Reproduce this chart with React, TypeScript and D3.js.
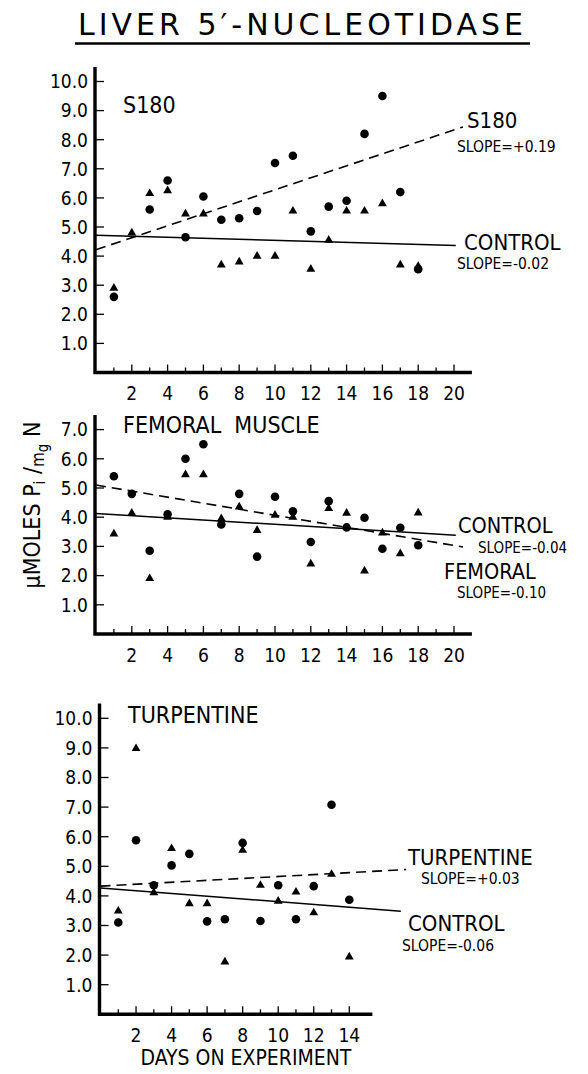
import { useEffect, useRef } from 'react';
import { line, scaleLinear, select, symbol, symbolTriangle } from 'd3';

type Pt = [number, number];

// [day, µmoles Pi / mg N]
const s180Treated: Pt[] = [
  [1, 2.6], [3, 5.6], [4, 6.6], [5, 4.65], [6, 6.05], [7, 5.25], [8, 5.3], [9, 5.55],
  [10, 7.2], [11, 7.45], [12, 4.85], [13, 5.7], [14, 5.9], [15, 8.2], [16, 9.5],
  [17, 6.2], [18, 3.55],
];
const s180Control: Pt[] = [
  [1, 2.9], [2, 4.8], [3, 6.15], [4, 6.25], [5, 5.45], [6, 5.45], [7, 3.7], [8, 3.8],
  [9, 4.0], [10, 4.0], [11, 5.55], [12, 3.55], [13, 4.55], [14, 5.55], [15, 5.55],
  [16, 5.8], [17, 3.7], [18, 3.65],
];
const s180TreatedFit: Pt[] = [[0, 4.22], [20.5, 8.44]];
const s180ControlFit: Pt[] = [[0, 4.72], [20.1, 4.36]];

const femoralTreated: Pt[] = [
  [1, 5.4], [2, 4.8], [3, 2.85], [4, 4.1], [5, 6.0], [6, 6.5], [7, 3.75], [8, 4.8],
  [9, 2.65], [10, 4.7], [11, 4.2], [12, 3.15], [13, 4.55], [14, 3.65], [15, 3.98],
  [16, 2.92], [17, 3.64], [18, 3.04],
];
const femoralControl: Pt[] = [
  [1, 3.43], [2, 4.14], [3, 1.9], [4, 4.0], [5, 5.46], [6, 5.46], [7, 3.95], [8, 4.35],
  [9, 3.55], [10, 4.07], [11, 4.0], [12, 2.4], [13, 4.3], [14, 4.14], [15, 2.16],
  [16, 3.46], [17, 2.75], [18, 4.15],
];
const femoralTreatedFit: Pt[] = [[0, 5.1], [20.5, 2.98]];
const femoralControlFit: Pt[] = [[0, 4.13], [20.1, 3.38]];

const turpTreated: Pt[] = [
  [1, 3.1], [2, 5.88], [3, 4.36], [4, 5.03], [5, 5.42], [6, 3.14], [7, 3.21], [8, 5.79],
  [9, 3.15], [10, 4.36], [11, 3.21], [12, 4.33], [13, 7.08], [14, 3.87],
];
const turpControl: Pt[] = [
  [1, 3.49], [2, 8.98], [3, 4.11], [4, 5.6], [5, 3.74], [6, 3.74], [7, 1.77], [8, 5.54],
  [9, 4.36], [10, 3.82], [11, 4.13], [12, 3.43], [13, 4.73], [14, 1.94],
];
const turpTreatedFit: Pt[] = [[0, 4.33], [17.2, 4.89]];
const turpControlFit: Pt[] = [[0, 4.27], [16.9, 3.48]];

const dayTicks20 = [2, 4, 6, 8, 10, 12, 14, 16, 18, 20];
const dayTicks14 = [2, 4, 6, 8, 10, 12, 14];
const valueTicks10 = [1, 2, 3, 4, 5, 6, 7, 8, 9, 10];
const valueTicks7 = [1, 2, 3, 4, 5, 6, 7];

const FONT = "'DejaVu Sans Condensed', 'DejaVu Sans', sans-serif";

type Label = { text: string; x: number; y: number; size: number };

const panels = [
  {
    name: 'S180',
    treated: s180Treated,
    control: s180Control,
    treatedFit: s180TreatedFit,
    controlFit: s180ControlFit,
    xTicks: dayTicks20,
    yTicks: valueTicks10,
    xMax: 21,
    yMax: 10.5,
    left: 96,
    pxPerDay: 17.9,
    bottom: 372.5,
    pxPerUnit: 29.1,
    titleX: 123,
    titleY: 113,
    labels: [
      { text: 'S180', x: 467, y: 128, size: 22 },
      { text: 'SLOPE=+0.19', x: 457, y: 151.5, size: 15.5 },
      { text: 'CONTROL', x: 464, y: 250, size: 22 },
      { text: 'SLOPE=-0.02', x: 457, y: 268.5, size: 15.5 },
    ] as Label[],
  },
  {
    name: 'FEMORAL  MUSCLE',
    treated: femoralTreated,
    control: femoralControl,
    treatedFit: femoralTreatedFit,
    controlFit: femoralControlFit,
    xTicks: dayTicks20,
    yTicks: valueTicks7,
    xMax: 21,
    yMax: 7.5,
    left: 96,
    pxPerDay: 17.9,
    bottom: 634,
    pxPerUnit: 29.2,
    titleX: 123,
    titleY: 432.5,
    labels: [
      { text: 'CONTROL', x: 458, y: 533, size: 21.5 },
      { text: 'SLOPE=-0.04', x: 478, y: 553, size: 15 },
      { text: 'FEMORAL', x: 444, y: 578.5, size: 21.5 },
      { text: 'SLOPE=-0.10', x: 457, y: 597.5, size: 15 },
    ] as Label[],
  },
  {
    name: 'TURPENTINE',
    treated: turpTreated,
    control: turpControl,
    treatedFit: turpTreatedFit,
    controlFit: turpControlFit,
    xTicks: dayTicks14,
    yTicks: valueTicks10,
    xMax: 15.3,
    yMax: 10.5,
    left: 100.5,
    pxPerDay: 17.77,
    bottom: 1014.3,
    pxPerUnit: 29.6,
    titleX: 128,
    titleY: 723,
    labels: [
      { text: 'TURPENTINE', x: 408, y: 865, size: 22 },
      { text: 'SLOPE=+0.03', x: 421, y: 883.5, size: 15.5 },
      { text: 'CONTROL', x: 408, y: 930.5, size: 22 },
      { text: 'SLOPE=-0.06', x: 402, y: 950.5, size: 15.5 },
    ] as Label[],
  },
];

export default function App() {
  const ref = useRef<SVGSVGElement>(null);

  useEffect(() => {
    const el = ref.current;
    if (!el) return;
    const svg = select(el);
    svg.selectAll('*').remove();

    // title
    svg
      .append('text')
      .attr('x', 78)
      .attr('y', 35)
      .attr('font-family', "'DejaVu Sans', sans-serif")
      .attr('font-size', 30)
      .attr('letter-spacing', 4)
      .text('LIVER 5′-NUCLEOTIDASE');
    svg
      .append('line')
      .attr('x1', 75)
      .attr('x2', 530)
      .attr('y1', 43.5)
      .attr('y2', 43.5)
      .attr('stroke', '#000')
      .attr('stroke-width', 2.5);

    panels.forEach((p) => {
      const x = scaleLinear()
        .domain([0, p.xMax])
        .range([p.left, p.left + p.xMax * p.pxPerDay]);
      const y = scaleLinear()
        .domain([0, p.yMax])
        .range([p.bottom, p.bottom - p.yMax * p.pxPerUnit]);
      const g = svg.append('g').attr('font-family', FONT).attr('font-stretch', 'condensed');

      // axes
      g.append('path')
        .attr('d', `M${x(0) - 1},${y(p.yMax)}V${y(0)}H${x(p.xMax)}`)
        .attr('fill', 'none')
        .attr('stroke', '#000')
        .attr('stroke-width', 3.4);

      const lastTick = p.xTicks[p.xTicks.length - 1];
      const days = Array.from({ length: lastTick }, (_, i) => i + 1);
      g.selectAll('.xt')
        .data(days)
        .join('line')
        .attr('x1', (d) => x(d))
        .attr('x2', (d) => x(d))
        .attr('y1', y(0))
        .attr('y2', (d) => y(0) - (d % 2 === 0 ? 8 : 5))
        .attr('stroke', '#000')
        .attr('stroke-width', 1.3);
      g.selectAll('.xl')
        .data(p.xTicks)
        .join('text')
        .attr('x', (d) => x(d))
        .attr('y', y(0) + 27.5)
        .attr('text-anchor', 'middle')
        .attr('font-size', 19)
        .text((d) => String(d));

      g.selectAll('.yt')
        .data(p.yTicks)
        .join('line')
        .attr('x1', x(0))
        .attr('x2', x(0) + 8)
        .attr('y1', (d) => y(d))
        .attr('y2', (d) => y(d))
        .attr('stroke', '#000')
        .attr('stroke-width', 1.3);
      g.selectAll('.yl')
        .data(p.yTicks)
        .join('text')
        .attr('x', x(0) - 8)
        .attr('y', (d) => y(d))
        .attr('dy', '0.36em')
        .attr('text-anchor', 'end')
        .attr('font-size', 19)
        .text((d) => d.toFixed(1));

      // fit lines
      const ln = line<Pt>()
        .x((d) => x(d[0]))
        .y((d) => y(d[1]));
      g.append('path')
        .attr('d', ln(p.controlFit))
        .attr('fill', 'none')
        .attr('stroke', '#000')
        .attr('stroke-width', 1.5);
      g.append('path')
        .attr('d', ln(p.treatedFit))
        .attr('fill', 'none')
        .attr('stroke', '#000')
        .attr('stroke-width', 1.6)
        .attr('stroke-dasharray', '10 6');

      // points
      g.selectAll('.tri')
        .data(p.control)
        .join('path')
        .attr('d', symbol(symbolTriangle, 34)())
        .attr('transform', (d) => `translate(${x(d[0])},${y(d[1])})`)
        .attr('fill', '#000');
      g.selectAll('.dot')
        .data(p.treated)
        .join('circle')
        .attr('cx', (d) => x(d[0]))
        .attr('cy', (d) => y(d[1]))
        .attr('r', 4.3)
        .attr('fill', '#000');

      // titles and labels
      g.append('text')
        .attr('x', p.titleX)
        .attr('y', p.titleY)
        .attr('font-size', 23)
        .style('white-space', 'pre')
        .text(p.name);
      p.labels.forEach((l) => {
        g.append('text').attr('x', l.x).attr('y', l.y).attr('font-size', l.size).text(l.text);
      });
    });

    // y axis title
    const yt = svg
      .append('text')
      .attr('transform', 'translate(40,505) rotate(-90)')
      .attr('text-anchor', 'middle')
      .attr('font-family', FONT)
      .attr('font-stretch', 'condensed')
      .attr('font-size', 23);
    yt.append('tspan').text('μMOLES P');
    yt.append('tspan').attr('font-size', 15).attr('dy', 5).text('i');
    yt.append('tspan').attr('dy', -5).text(' /');
    yt.append('tspan').attr('font-size', 17).attr('dy', 4).text('m');
    yt.append('tspan').attr('font-size', 15).attr('dy', 4).text('g');
    yt.append('tspan').attr('dy', -8).text(' N');

    // x axis title
    svg
      .append('text')
      .attr('x', 246)
      .attr('y', 1065)
      .attr('text-anchor', 'middle')
      .attr('font-family', FONT)
      .attr('font-stretch', 'condensed')
      .attr('font-size', 21)
      .text('DAYS ON EXPERIMENT');
  }, []);

  return (
    <svg
      ref={ref}
      width={588}
      height={1074}
      style={{ position: 'absolute', left: 0, top: 0, background: '#fff' }}
    />
  );
}
